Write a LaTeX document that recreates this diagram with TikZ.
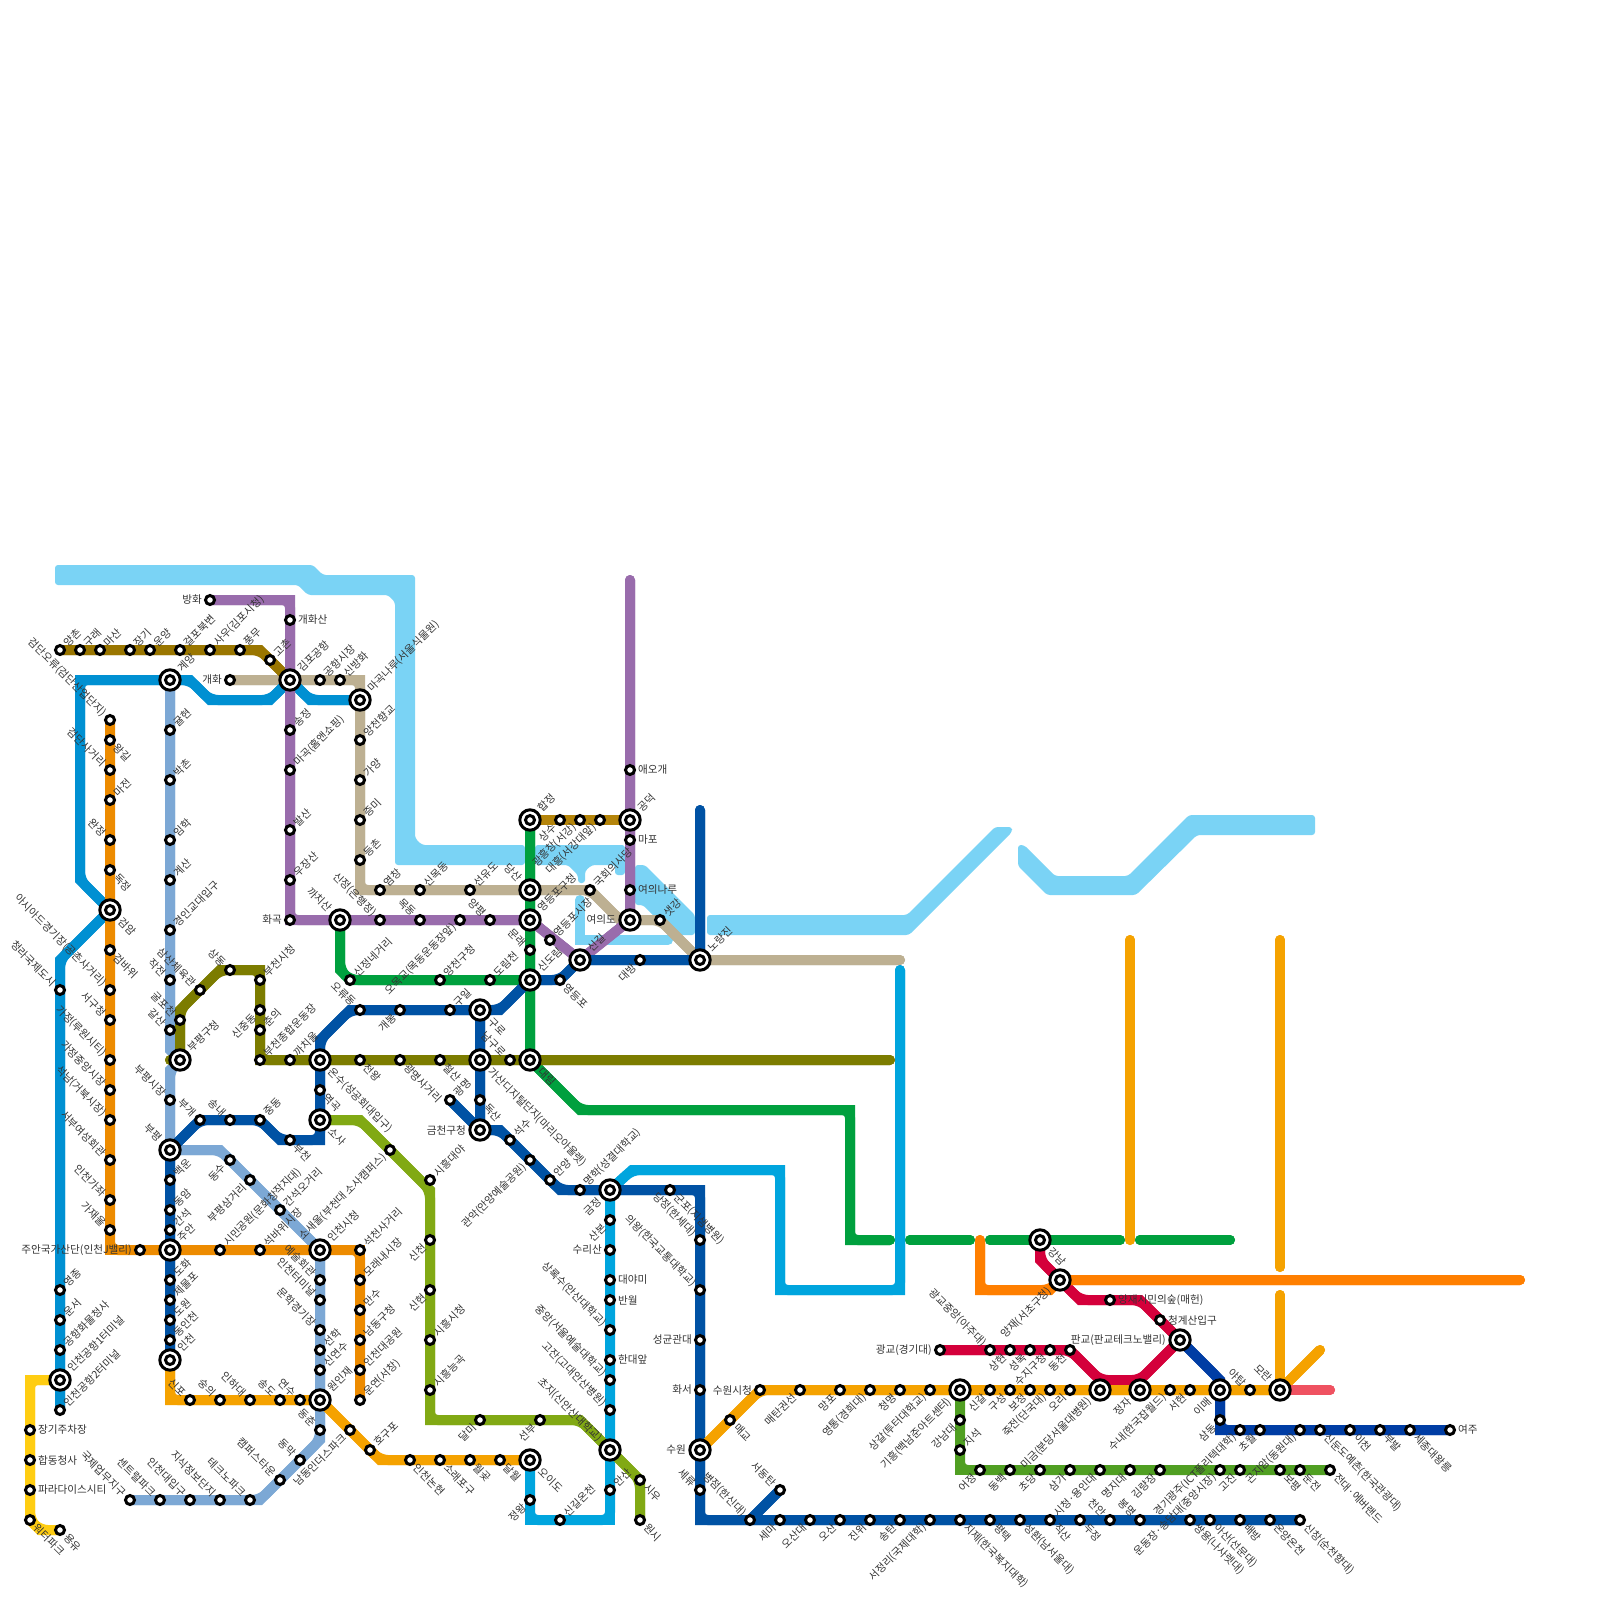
\documentclass[tikz,border=0pt]{standalone}
\usepackage{fontspec}
\setmainfont{Noto Sans CJK KR}
\pgfdeclarelayer{bg}
\pgfsetlayers{bg,main}
\definecolor{cGimpo}{HTML}{9A7600}
\definecolor{cArex}{HTML}{0090D2}
\definecolor{cIcA}{HTML}{7CA8D5}
\definecolor{cIcB}{HTML}{ED8B00}
\definecolor{cMaglev}{HTML}{FFCD12}
\definecolor{cOlive}{HTML}{7C7C00}
\definecolor{cOne}{HTML}{0052A4}
\definecolor{cTwo}{HTML}{00A03E}
\definecolor{cFive}{HTML}{996CAC}
\definecolor{cNine}{HTML}{BDB092}
\definecolor{cSix}{HTML}{B5850B}
\definecolor{cFour}{HTML}{00A5DE}
\definecolor{cSeohae}{HTML}{81A914}
\definecolor{cSuin}{HTML}{F5A200}
\definecolor{cShin}{HTML}{D4003B}
\definecolor{cOrange}{HTML}{FF7F00}
\definecolor{cYeoju}{HTML}{003DA4}
\definecolor{cYongin}{HTML}{509F22}
\definecolor{cCoral}{HTML}{EF5261}
\definecolor{cRiver}{HTML}{7AD3F5}
\definecolor{cText}{HTML}{333333}
\def\labsh{8pt}
\tikzset{
  st/.style={circle,draw=black,fill=white,line width=3pt,minimum size=9pt,inner sep=0pt},
  xc/.style={circle,draw=black,fill=white,line width=3pt,minimum size=20.4pt,inner sep=0pt},
  lab/.style={inner sep=0pt,text=cText,font=\fontsize{10.6}{11}\selectfont},
  UR/.style={lab,rotate=45,anchor=west,xshift=\labsh},
  LR/.style={lab,rotate=-45,anchor=west,xshift=\labsh},
  UL/.style={lab,rotate=-45,anchor=east,xshift=-\labsh},
  LL/.style={lab,rotate=45,anchor=east,xshift=-\labsh},
  RT/.style={lab,anchor=west,xshift=\labsh},
  LF/.style={lab,anchor=east,xshift=-\labsh},
  metro/.style={line width=10pt,line cap=round,line join=miter},
  riverarea/.style={fill=cRiver,rounded corners=3pt},
}
\newcommand\stn[5]{\def\labsh{8pt}\node[st] (#1) at (#2,#3) {};\node[#4] (#1-l) at (#1.center) {#5};}
\newcommand\xch[5]{\def\labsh{14pt}\node[xc] (#1) at (#2,#3) {};\node[st] (#1-i) at (#1.center) {};\node[#4] (#1-l) at (#1.center) {#5};}
\newcommand\mline[2]{\draw[metro,draw=#1] #2;\draw[metro,draw=#1,rounded corners=8pt] #2;}
\begin{document}
\begin{tikzpicture}[x=1pt,y=-1pt]
\useasboundingbox (0,0) rectangle (1600,1600);
% Gimpo
\stn{yangchon}{60}{650}{UR}{양촌}
\stn{gurae}{80}{650}{UR}{구래}
\stn{masan}{100}{650}{UR}{마산}
\stn{janggi}{130}{650}{UR}{장기}
\stn{unyang}{150}{650}{UR}{운양}
\stn{geolpo}{180}{650}{UR}{걸포북변}
\stn{sau}{210}{650}{UR}{사우(김포시청)}
\stn{pungmu}{240}{650}{UR}{풍무}
\stn{gochon}{270}{660}{UR}{고촌}
% Interchanges
\xch{gyeyang}{170}{680}{UR}{계양}
\xch{gimpo}{290}{680}{UR}{김포공항}
\xch{magoknaru}{360}{700}{UR}{마곡나루(서울식물원)}
\xch{geomam}{110}{910}{LR}{검암}
\xch{kkachisan}{340}{920}{UL}{까치산}
\xch{hapjeong}{530}{820}{UR}{합정}
\xch{gongdeok}{630}{820}{UR}{공덕}
\xch{dangsan}{530}{890}{UL}{당산}
\xch{ydpgu}{530}{920}{UR}{영등포구청}
\xch{sindorim}{530}{980}{UR}{신도림}
\xch{daerim}{530}{1060}{LR}{대림}
\xch{guro}{480}{1010}{LR}{구로}
\xch{gasan}{480}{1060}{LR}{가산디지털단지(마리오아울렛)}
\xch{geumcheon}{480}{1130}{LF}{금천구청}
\xch{onsu}{320}{1060}{LR}{온수(성공회대입구)}
\xch{sosa}{320}{1120}{LR}{소사}
\xch{bupyeonggu}{180}{1060}{UR}{부평구청}
\xch{bupyeong}{170}{1150}{UL}{부평}
\xch{juan}{170}{1250}{UR}{주안}
\xch{incheon}{170}{1360}{UR}{인천}
\xch{icsicheong}{320}{1250}{UR}{인천시청}
\xch{woninjae}{320}{1400}{UR}{원인재}
\xch{airportone}{60}{1380}{UR}{인천공항1터미널}
\xch{oido}{530}{1460}{LR}{오이도}
\xch{choji}{610}{1450}{UL}{초지(신안산대학교)}
\xch{geumjeong}{610}{1190}{LL}{금정}
\xch{suwon}{700}{1450}{LF}{수원}
\xch{singil}{580}{960}{UR}{신길}
\xch{yeouido}{630}{920}{LF}{여의도}
\xch{noryangjin}{700}{960}{UR}{노량진}
\xch{giheung}{960}{1390}{LL}{기흥(백남준아트센터)}
\xch{migeum}{1100}{1390}{LL}{미금(분당서울대병원)}
\xch{jeongja}{1140}{1390}{LL}{정자}
\xch{pangyo}{1180}{1340}{LF}{판교(판교테크노밸리)}
\xch{imae}{1220}{1390}{LL}{이매}
\xch{moran}{1280}{1390}{UL}{모란}
\xch{gangnam}{1040}{1240}{LR}{강남}
\xch{yangjae}{1060}{1280}{LL}{양재(서초구청)}
% Incheon 2
\stn{geomdan}{110}{720}{UL}{검단오류(검단산업단지)}
\stn{wanggil}{110}{740}{LR}{왕길}
\stn{gdsageori}{110}{770}{UL}{검단사거리}
\stn{majeon}{110}{800}{UR}{마전}
\stn{wanjeong}{110}{840}{UL}{완정}
\stn{dokjeong}{110}{870}{LR}{독정}
\stn{geombawi}{110}{950}{LR}{검바위}
\stn{asiad}{110}{990}{UL}{아시아드경기장(공촌사거리)}
\stn{seogu}{110}{1020}{UL}{서구청}
\stn{gajeong}{110}{1060}{UL}{가정(루원시티)}
\stn{gajeongjm}{110}{1090}{UL}{가정중앙시장}
\stn{seoknam}{110}{1120}{UL}{석남(거북시장)}
\stn{seobu}{110}{1160}{UL}{서부여성회관}
\stn{gajwa}{110}{1200}{UL}{인천가좌}
\stn{gajaeul}{110}{1230}{UL}{가재울}
\stn{juangs}{140}{1250}{LF}{주안국가산단(인천J밸리)}
\stn{simin}{220}{1250}{UR}{시민공원(문화창작지대)}
\stn{seokbawi}{260}{1250}{UR}{석바위시장}
\stn{seokcheon}{360}{1250}{UR}{석천사거리}
\stn{moraenae}{360}{1280}{UR}{모래내시장}
\stn{mansu}{360}{1310}{UR}{만수}
\stn{namdong}{360}{1340}{UR}{남동구청}
\stn{daegongwon}{360}{1370}{UR}{인천대공원}
\stn{unyeon}{360}{1400}{UR}{운연(서창)}
% Airport
\stn{airporttwo}{60}{1410}{UR}{인천공항2터미널}
\stn{cargo}{60}{1350}{UR}{공항화물청사}
\stn{unseo}{60}{1320}{UR}{운서}
\stn{yeongjong}{60}{1290}{UR}{영종}
\stn{cheongna}{60}{990}{UL}{청라국제도시}
% Maglev
\stn{jangi}{30}{1430}{RT}{장기주차장}
\stn{hapdong}{30}{1460}{RT}{합동청사}
\stn{paradise}{30}{1490}{RT}{파라다이스시티}
\stn{waterpark}{30}{1520}{LR}{워터파크}
\stn{yongyu}{60}{1530}{LR}{용유}
% Incheon 1
\stn{gyulhyeon}{170}{730}{UR}{귤현}
\stn{bakchon}{170}{780}{UR}{박촌}
\stn{imhak}{170}{840}{UR}{임학}
\stn{gyesan}{170}{880}{UR}{계산}
\stn{gyeongin}{170}{930}{UR}{경인교대입구}
\stn{jakjeon}{170}{980}{UL}{작전}
\stn{galsan}{170}{1030}{UL}{갈산}
\stn{bpsijang}{170}{1100}{UL}{부평시장}
\stn{dongsu}{230}{1160}{LL}{동수}
\stn{bpsamgeori}{250}{1180}{LL}{부평삼거리}
\stn{ganseogo}{280}{1210}{UR}{간석오거리}
\stn{yesul}{320}{1280}{UL}{예술회관}
\stn{icterminal}{320}{1300}{UL}{인천터미널}
\stn{munhak}{320}{1330}{UL}{문학경기장}
\stn{seonhak}{320}{1350}{UR}{선학}
\stn{sinyeonsu}{320}{1370}{UR}{신연수}
\stn{dongchun}{320}{1430}{UL}{동춘}
\stn{dongmak}{300}{1460}{UL}{동막}
\stn{campus}{280}{1480}{UL}{캠퍼스타운}
\stn{techno}{250}{1500}{UL}{테크노파크}
\stn{jisik}{220}{1500}{UL}{지식정보단지}
\stn{icuniv}{190}{1500}{UL}{인천대입구}
\stn{central}{160}{1500}{UL}{센트럴파크}
\stn{gukje}{130}{1500}{UL}{국제업무지구}
% Line 7
\stn{gulpo}{180}{1020}{UL}{굴포천}
\stn{samsan}{200}{990}{UL}{삼산체육관}
\stn{sangdong}{230}{970}{UL}{상동}
\stn{bcsicheong}{260}{980}{UR}{부천시청}
\stn{sinjungdong}{260}{1010}{LL}{신중동}
\stn{chunui}{260}{1030}{UR}{춘의}
\stn{bcstadium}{260}{1060}{UR}{부천종합운동장}
\stn{kkachiul}{290}{1060}{UR}{까치울}
\stn{cheonwang}{360}{1060}{LR}{천왕}
\stn{gmsageori}{400}{1060}{LR}{광명사거리}
\stn{cheolsan}{440}{1060}{LR}{철산}
\stn{namguro}{510}{1060}{UL}{남구로}
% Line 1
\stn{dongincheon}{170}{1340}{UR}{동인천}
\stn{dowon}{170}{1320}{UR}{도원}
\stn{jemulpo}{170}{1300}{UR}{제물포}
\stn{dohwa}{170}{1280}{UR}{도화}
\stn{ganseok}{170}{1230}{UR}{간석}
\stn{dongam}{170}{1210}{UR}{동암}
\stn{baegun}{170}{1180}{UR}{백운}
\stn{bugae}{200}{1120}{UL}{부개}
\stn{songnae}{230}{1120}{UL}{송내}
\stn{jungdong}{260}{1120}{UR}{중동}
\stn{bucheon}{290}{1140}{LR}{부천}
\stn{yeokgok}{320}{1090}{LR}{역곡}
\stn{oryu}{360}{1010}{UL}{오류동}
\stn{gaebong}{400}{1010}{LL}{개봉}
\stn{guil}{450}{1010}{UR}{구일}
\stn{yeongdeungpo}{560}{980}{LR}{영등포}
\stn{daebang}{640}{960}{LL}{대방}
\stn{gwangmyeong}{450}{1100}{UR}{광명}
\stn{doksan}{480}{1100}{LR}{독산}
\stn{seoksu}{510}{1140}{UR}{석수}
\stn{gwanak}{530}{1160}{LL}{관악(안양예술공원)}
\stn{anyang}{550}{1180}{UR}{안양}
\stn{myeonghak}{580}{1190}{UR}{명학(성결대학교)}
\stn{gunpo}{670}{1190}{LR}{군포(지샘병원)}
\stn{dangjeong}{700}{1240}{UL}{당정(한세대)}
\stn{uiwang}{700}{1290}{UL}{의왕(한국교통대학교)}
\stn{sungkyun}{700}{1340}{LF}{성균관대}
\stn{hwaseo}{700}{1390}{LF}{화서}
\stn{seryu}{700}{1490}{UL}{세류}
\stn{byeongjeom}{750}{1520}{UL}{병점(한신대)}
\stn{seodongtan}{780}{1490}{UL}{서동탄}
\stn{sema}{780}{1520}{LL}{세마}
\stn{osandae}{810}{1520}{LL}{오산대}
\stn{osan}{840}{1520}{LL}{오산}
\stn{jinwi}{870}{1520}{LL}{진위}
\stn{songtan}{900}{1520}{LL}{송탄}
\stn{seojeong}{930}{1520}{LL}{서정리(국제대학)}
\stn{jije}{960}{1520}{LR}{지제(한국복지대학)}
\stn{pyeongtaek}{990}{1520}{LR}{평택}
\stn{seonghwan}{1020}{1520}{LR}{성환(남서울대)}
\stn{jiksan}{1050}{1520}{LR}{직산}
\stn{dujeong}{1080}{1520}{LR}{두정}
\stn{cheonan}{1110}{1520}{UL}{천안}
\stn{bongmyeong}{1140}{1520}{UL}{봉명}
\stn{ssangyong}{1190}{1520}{LR}{쌍용(나사렛대)}
\stn{asan}{1210}{1520}{LR}{아산(선문대)}
\stn{baebang}{1240}{1520}{LR}{배방}
\stn{onyang}{1270}{1520}{LR}{온양온천}
\stn{sinchang}{1300}{1520}{LR}{신창(순천향대)}
% Line 5
\stn{banghwa}{210}{600}{LF}{방화}
\stn{gaehwasan}{290}{620}{RT}{개화산}
\stn{songjeong}{290}{730}{UR}{송정}
\stn{magok}{290}{770}{UR}{마곡(홈앤쇼핑)}
\stn{balsan}{290}{830}{UR}{발산}
\stn{ujangsan}{290}{880}{UR}{우장산}
\stn{hwagok}{290}{920}{LF}{화곡}
\stn{sinjeong}{380}{920}{UL}{신정(은행정)}
\stn{mokdong}{420}{920}{UL}{목동}
\stn{omokgyo}{460}{920}{LL}{오목교(목동운동장앞)}
\stn{yangpyeong}{490}{920}{UL}{양평}
\stn{ydpsijang}{550}{940}{UR}{영등포시장}
\stn{yeouinaru}{630}{890}{RT}{여의나루}
\stn{mapo}{630}{840}{RT}{마포}
\stn{aeogae}{630}{770}{RT}{애오개}
% Line 9
\stn{gaehwa}{230}{680}{LF}{개화}
\stn{gonghang}{320}{680}{UR}{공항시장}
\stn{sinbanghwa}{340}{680}{UR}{신방화}
\stn{yangcheon}{360}{740}{UR}{양천향교}
\stn{gayang}{360}{780}{UR}{가양}
\stn{jeungmi}{360}{820}{UR}{증미}
\stn{deungchon}{360}{860}{UR}{등촌}
\stn{yeomchang}{380}{890}{UR}{염창}
\stn{sinmok}{420}{890}{UR}{신목동}
\stn{seonyudo}{470}{890}{UR}{선유도}
\stn{gukhoe}{590}{890}{UR}{국회의사당}
\stn{saetgang}{660}{920}{UR}{샛강}
% Line 6
\stn{sangsu}{560}{820}{LL}{상수}
\stn{gwangheung}{580}{820}{LL}{광흥창(서강)}
\stn{daeheung}{600}{820}{LL}{대흥(서강대앞)}
% Line 2
\stn{mullae}{530}{950}{UL}{문래}
\stn{dorimcheon}{490}{980}{UR}{도림천}
\stn{yangcheongu}{440}{980}{UR}{양천구청}
\stn{sinjeongne}{350}{980}{UR}{신정네거리}
% Line 4
\stn{sanbon}{610}{1220}{LL}{산본}
\stn{surisan}{610}{1250}{LF}{수리산}
\stn{daeyami}{610}{1280}{RT}{대야미}
\stn{banwol}{610}{1300}{RT}{반월}
\stn{sangnoksu}{610}{1330}{UL}{상록수(안산대학교)}
\stn{handae}{610}{1360}{RT}{한대앞}
\stn{jungang}{610}{1380}{UL}{중앙(서울예술대학교)}
\stn{gojan}{610}{1410}{UL}{고잔(고대안산병원)}
\stn{ansan}{610}{1490}{UR}{안산}
\stn{singiloncheon}{560}{1520}{UR}{신길온천}
\stn{jeongwang}{530}{1500}{LL}{정왕}
% Seohae
\stn{sosaeul}{390}{1150}{LL}{소새울(부천대 소사캠퍼스)}
\stn{siheungdy}{430}{1180}{UR}{시흥대야}
\stn{sincheon}{430}{1240}{LL}{신천}
\stn{sinhyeon}{430}{1290}{LL}{신현}
\stn{siheungsi}{430}{1340}{UR}{시흥시청}
\stn{neunggok}{430}{1390}{UR}{시흥능곡}
\stn{dalmi}{480}{1420}{LL}{달미}
\stn{seonbu}{540}{1420}{LL}{선부}
\stn{siu}{640}{1480}{LR}{시우}
\stn{wonsi}{640}{1520}{LR}{원시}
% Suin-Bundang
\stn{sinpo}{190}{1400}{UL}{신포}
\stn{sungui}{220}{1400}{UL}{숭의}
\stn{inha}{250}{1400}{UL}{인하대}
\stn{songdo}{280}{1400}{UL}{송도}
\stn{yeonsu}{300}{1400}{UL}{연수}
\stn{namdongind}{350}{1430}{LL}{남동인더스파크}
\stn{hogupo}{370}{1450}{UR}{호구포}
\stn{nonhyeon}{410}{1460}{LR}{인천논현}
\stn{soraepo}{440}{1460}{LR}{소래포구}
\stn{wolgot}{470}{1460}{LR}{월곶}
\stn{dalwol}{500}{1460}{LR}{달월}
\stn{maegyo}{730}{1420}{LR}{매교}
\stn{suwonsi}{760}{1390}{LF}{수원시청}
\stn{maetan}{800}{1390}{LL}{매탄권선}
\stn{mangpo}{840}{1390}{LL}{망포}
\stn{yeongtong}{870}{1390}{LL}{영통(경희대)}
\stn{cheongmyeong}{900}{1390}{LL}{청명}
\stn{sanggal}{930}{1390}{LL}{상갈(투터대학교)}
\stn{singal}{990}{1390}{LL}{신갈}
\stn{guseong}{1010}{1390}{LL}{구성}
\stn{bojeong}{1030}{1390}{LL}{보정}
\stn{jukjeon}{1050}{1390}{LL}{죽전(단국대)}
\stn{ori}{1070}{1390}{LL}{오리}
\stn{sunae}{1170}{1390}{LL}{수내(한국잡월드)}
\stn{seohyeon}{1190}{1390}{LL}{서현}
\stn{yatap}{1250}{1390}{UL}{야탑}
% Shinbundang
\stn{yangjaesup}{1110}{1300}{RT}{양재시민의숲(매헌)}
\stn{cheonggye}{1160}{1320}{RT}{청계산입구}
\stn{gwanggyo}{940}{1350}{LF}{광교(경기대)}
\stn{gwanggyoj}{990}{1350}{UL}{광교중앙(아주대)}
\stn{sanghyeon}{1010}{1350}{LL}{상현}
\stn{seongbok}{1030}{1350}{LL}{성복}
\stn{suji}{1050}{1350}{LL}{수지구청}
\stn{dongcheon}{1070}{1350}{LL}{동천}
% Yeoju
\stn{samdong}{1220}{1420}{LL}{삼동}
\stn{gyeonggi}{1240}{1430}{LL}{경기광주(ICT폴리텍대학)}
\stn{chowol}{1260}{1430}{LL}{초월}
\stn{gonjiam}{1300}{1430}{LL}{곤지암(동원대)}
\stn{sindun}{1320}{1430}{LR}{신둔도예촌(한국관광대)}
\stn{icheon}{1350}{1430}{LR}{이천}
\stn{bubal}{1380}{1430}{LR}{부발}
\stn{sejong}{1410}{1430}{LR}{세종대왕릉}
\stn{yeoju}{1450}{1430}{RT}{여주}
% Everline
\stn{gangnamdae}{960}{1420}{LL}{강남대}
\stn{jiseok}{960}{1450}{UR}{지석}
\stn{eojeong}{980}{1470}{LL}{어정}
\stn{dongbaek}{1010}{1470}{LL}{동백}
\stn{chodang}{1040}{1470}{LL}{초당}
\stn{samga}{1070}{1470}{LL}{삼가}
\stn{sicheong}{1100}{1470}{LL}{시청·용인대}
\stn{myeongji}{1130}{1470}{LL}{명지대}
\stn{gimnyang}{1160}{1470}{LL}{김량장}
\stn{undongjang}{1220}{1470}{LL}{운동장·송담대(중앙시장)}
\stn{gojin}{1240}{1470}{LL}{고진}
\stn{bopyeong}{1280}{1470}{LR}{보평}
\stn{dunjeon}{1300}{1470}{LR}{둔전}
\stn{everland}{1330}{1470}{LR}{전대·에버랜드}
% Free ends
\coordinate (fiveend) at (630,580);
\coordinate (oneend) at (700,810);
\coordinate (twoend) at (890,1240);
\coordinate (sevenend) at (890,1060);
\coordinate (nineend) at (900,960);
\coordinate (fourend) at (900,970);
\coordinate (orangestart) at (980,1240);
\coordinate (orangeend) at (1520,1280);
\coordinate (suintip) at (1320,1350);
\coordinate (suintop) at (1280,1295);
\coordinate (coralend) at (1330,1390);
\begin{pgfonlayer}{bg}
\fill[white] (0,0) rectangle (1600,1600);
% River
\path[riverarea] (55,565) -- (313,565) -- (323,575) -- (415,575) -- (415,838) -- (422,845) -- (525,845) -- (525,865) -- (395,865) -- (395,602) -- (388,595) -- (308,595) -- (298,585) -- (55,585) -- cycle;
\path[riverarea] (535,845) -- (625,845) -- (625,875) -- (615,875) -- (615,865) -- (592,865) -- (585,871) -- (585,883) -- (578,883) -- (578,875) -- (568,865) -- (535,865) -- cycle;
\draw[cRiver,line width=10pt,line cap=round,line join=miter] (580,900) -- (580,940) -- (668,940);
\path[riverarea] (635,865) -- (645,865) -- (695,915) -- (695,935) -- (673,935) -- (643,905) -- (635,905) -- cycle;
\path[riverarea] (707,915) -- (907,915) -- (995,827) -- (1012,827) -- (1012,832) -- (909,935) -- (707,935) -- cycle;
\path[riverarea] (1018,845) -- (1024,845) -- (1055,876) -- (1128,876) -- (1189,815) -- (1315,815) -- (1315,835) -- (1197,835) -- (1136,895) -- (1047,895) -- (1018,866) -- cycle;
% Lines
\mline{cTwo}{(hapjeong.center) -- (daerim.center) -- (580,1110) -- (850,1110) -- (850,1240) -- (twoend)}
\mline{cTwo}{(910,1240) -- (970,1240)}
\mline{cTwo}{(990,1240) -- (1120,1240)}
\mline{cTwo}{(1140,1240) -- (1230,1240)}
\mline{cTwo}{(kkachisan.center) -- (340,970) -- (350,980) -- (sindorim.center)}
\mline{cNine}{(gaehwa.center) -- (360,680) -- (360,890) -- (gukhoe.center) -- (620,920) -- (saetgang.center) -- (noryangjin.center) -- (nineend)}
\mline{cFour}{(geumjeong.center) -- (632,1170) -- (780,1170) -- (780,1290) -- (900,1290) -- (fourend)}
\mline{cFour}{(geumjeong.center) -- (610,1520) -- (530,1520) -- (oido.center)}
\mline{cGimpo}{(yangchon.center) -- (260,650) -- (gimpo.center)}
\mline{cArex}{(airporttwo.center) -- (60,960) -- (geomam.center) -- (80,880) -- (80,680) -- (gyeyang.center) -- (190,680) -- (210,700) -- (270,700) -- (gimpo.center) -- (310,700) -- (magoknaru.center)}
\mline{cIcA}{(gyeyang.center) -- (170,1050) -- (bupyeonggu.center) -- (170,1070) -- (bupyeong.center) -- (220,1150) -- (icsicheong.center) -- (320,1440) -- (260,1500) -- (gukje.center)}
\mline{cIcB}{(geomdan.center) -- (110,1250) -- (360,1250) -- (unyeon.center)}
\mline{cMaglev}{(airportone.center) -- (30,1380) -- (30,1520) -- (40,1530) -- (yongyu.center)}
\mline{cOlive}{(170,1060) -- (bupyeonggu.center) -- (180,1010) -- (220,970) -- (260,970) -- (260,1060) -- (sevenend)}
\mline{cSix}{(hapjeong.center) -- (gongdeok.center)}
\mline{cFive}{(banghwa.center) -- (290,600) -- (290,920) -- (ydpgu.center) -- (singil.center) -- (yeouido.center) -- (fiveend)}
\mline{cSeohae}{(sosa.center) -- (360,1120) -- (430,1190) -- (430,1420) -- (580,1420) -- (choji.center) -- (siu.center) -- (wonsi.center)}
\mline{cOne}{(incheon.center) -- (bupyeong.center) -- (200,1120) -- (260,1120) -- (280,1140) -- (320,1140) -- (320,1040) -- (350,1010) -- (500,1010) -- (530,980) -- (560,980) -- (singil.center) -- (noryangjin.center) -- (oneend)}
\mline{cOne}{(guro.center) -- (geumcheon.center) -- (500,1130) -- (560,1190) -- (700,1190) -- (700,1520) -- (sinchang.center)}
\mline{cOne}{(gwangmyeong.center) -- (geumcheon.center)}
\mline{cOne}{(seodongtan.center) -- (byeongjeom.center)}
\mline{cShin}{(gangnam.center) -- (1040,1260) -- (1080,1300) -- (1140,1300) -- (pangyo.center) -- (1140,1380) -- (1100,1380) -- (1070,1350) -- (gwanggyo.center)}
\mline{cOrange}{(orangestart) -- (980,1290) -- (1050,1290) -- (yangjae.center) -- (orangeend)}
\mline{cSuin}{(incheon.center) -- (170,1400) -- (woninjae.center) -- (380,1460) -- (oido.center)}
\mline{cSuin}{(suwon.center) -- (760,1390) -- (moran.center) -- (suintip)}
\mline{cSuin}{(moran.center) -- (suintop)}
\mline{cSuin}{(1280,940) -- (1280,1267)}
\mline{cSuin}{(1130,940) -- (1130,1240)}
\mline{cCoral}{(moran.center) -- (coralend)}
\mline{cYeoju}{(pangyo.center) -- (1220,1380) -- (1220,1430) -- (yeoju.center)}
\mline{cYongin}{(giheung.center) -- (960,1470) -- (everland.center)}
\end{pgfonlayer}
\end{tikzpicture}
\end{document}
